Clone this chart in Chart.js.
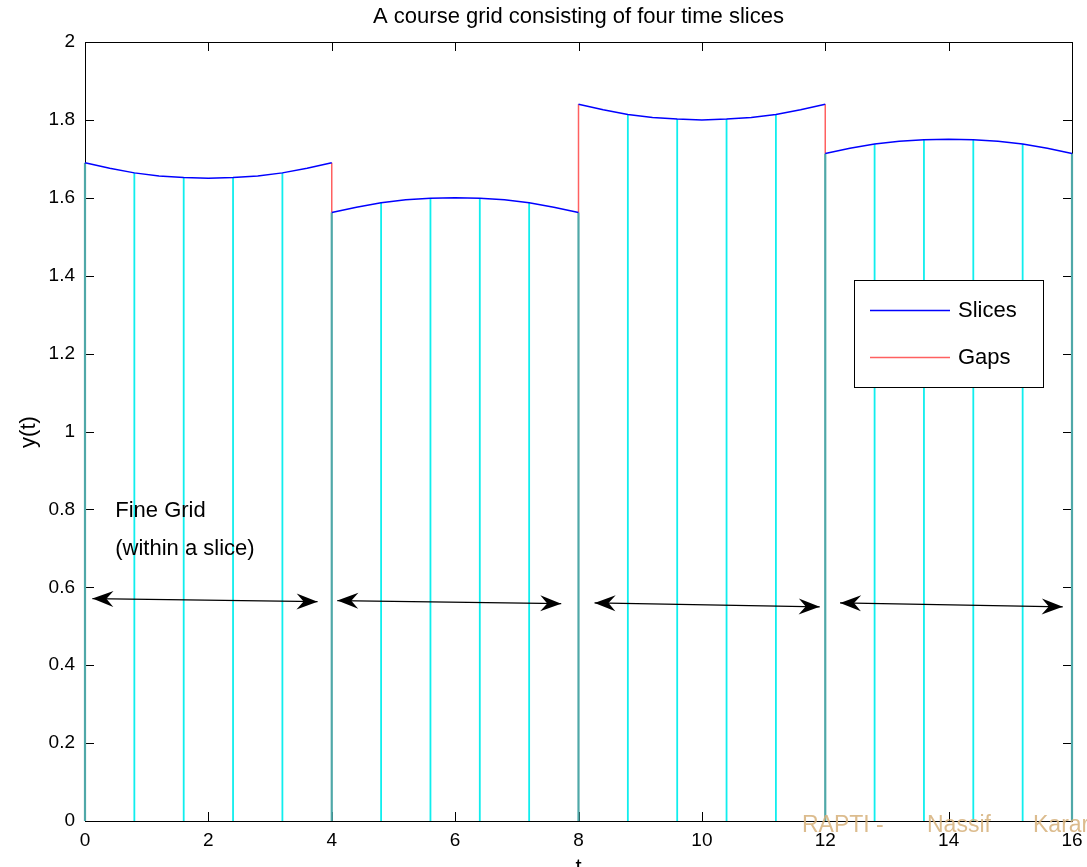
<!DOCTYPE html>
<html>
<head>
<meta charset="utf-8">
<script src="https://cdn.jsdelivr.net/npm/chart.js@4.4.1/dist/chart.umd.min.js"></script>
<style>
    html, body { margin: 0; padding: 0; background: #fff; }
    #wrap { width: 1087px; height: 867px; position: relative; }
</style>
</head>
<body>
<div id="wrap"><canvas id="wykres"></canvas></div>
<script>
// four time slices, values read every 0.4 s
const slice1T = [0.0, 0.4, 0.8, 1.2, 1.6, 2.0, 2.4, 2.8, 3.2, 3.6, 4.0];
const slice1Y = [1.690, 1.676, 1.664, 1.656, 1.652, 1.650, 1.652, 1.656, 1.664, 1.676, 1.690];
const slice2T = [4.0, 4.4, 4.8, 5.2, 5.6, 6.0, 6.4, 6.8, 7.2, 7.6, 8.0];
const slice2Y = [1.562, 1.576, 1.587, 1.595, 1.599, 1.600, 1.599, 1.595, 1.587, 1.576, 1.562];
const slice3T = [8.0, 8.4, 8.8, 9.2, 9.6, 10.0, 10.4, 10.8, 11.2, 11.6, 12.0];
const slice3Y = [1.840, 1.826, 1.814, 1.806, 1.802, 1.800, 1.802, 1.806, 1.814, 1.826, 1.840];
const slice4T = [12.0, 12.4, 12.8, 13.2, 13.6, 14.0, 14.4, 14.8, 15.2, 15.6, 16.0];
const slice4Y = [1.714, 1.727, 1.738, 1.745, 1.749, 1.750, 1.749, 1.745, 1.738, 1.727, 1.714];

// double arrows under each slice
const arrowX1 = [0.12, 4.09, 8.26, 12.24];
const arrowY1 = [0.571, 0.566, 0.560, 0.560];
const arrowX2 = [3.77, 7.72, 11.91, 15.85];
const arrowY2 = [0.563, 0.558, 0.550, 0.550];

const noteLines = ['Fine Grid', '(within a slice)'];
const noteX = 0.49;
const noteY = [0.797, 0.699];

const xTicks = [0, 2, 4, 6, 8, 10, 12, 14, 16];
const yTicks = [0, 0.2, 0.4, 0.6, 0.8, 1, 1.2, 1.4, 1.6, 1.8, 2];

const chartTitle = 'A course grid consisting of four time slices';
const xTitle = 't';
const yTitle = 'y(t)';
const legendOrder = ['Slices', 'Gaps'];
const watermark = ['RAPTI -', 'Nassif', 'Karar'];

document.addEventListener('DOMContentLoaded', () => {
    const font = 'Liberation Sans, Arial, sans-serif';
    const slices = [[slice1T, slice1Y], [slice2T, slice2Y], [slice3T, slice3Y], [slice4T, slice4Y]];

    const sliceData = [];
    const fineData = [];
    slices.forEach(([t, y]) => {
        for (let i = 0; i < t.length; i++) {
            sliceData.push({ x: t[i], y: y[i] });
        }
        sliceData.push({ x: t[t.length - 1], y: null });
        for (let i = 2; i < t.length - 1; i += 2) {
            fineData.push({ x: t[i], y: 0 }, { x: t[i], y: y[i] }, { x: t[i], y: null });
        }
    });

    const boundData = [];
    const gapData = [];
    for (let k = 0; k <= slices.length; k++) {
        const prev = slices[k - 1];
        const next = slices[k];
        const endY = prev ? prev[1][prev[1].length - 1] : null;
        const startY = next ? next[1][0] : null;
        const x = next ? next[0][0] : prev[0][prev[0].length - 1];
        const low = Math.min(endY ?? Infinity, startY ?? Infinity);
        boundData.push({ x: x, y: 0 }, { x: x, y: low }, { x: x, y: null });
        if (prev && next) {
            gapData.push({ x: x, y: endY }, { x: x, y: startY }, { x: x, y: null });
        }
    }

    const arrowData = [];
    for (let i = 0; i < arrowX1.length; i++) {
        arrowData.push({ x: arrowX1[i], y: arrowY1[i] }, { x: arrowX2[i], y: arrowY2[i] }, { x: arrowX2[i], y: null });
    }

    function grot(ctx, tipX, tipY, fromX, fromY) {
        const ang = Math.atan2(tipY - fromY, tipX - fromX);
        ctx.save();
        ctx.translate(tipX, tipY);
        ctx.rotate(ang);
        ctx.beginPath();
        ctx.moveTo(0, 0);
        ctx.lineTo(-21, -8);
        ctx.lineTo(-14, 0);
        ctx.lineTo(-21, 8);
        ctx.closePath();
        ctx.fill();
        ctx.restore();
    }

    const ramka = {
        id: 'ramka',
        beforeDatasetsDraw(chart) {
            const ctx = chart.ctx;
            const { left, right, top, bottom } = chart.chartArea;
            const sx = chart.scales.x;
            const sy = chart.scales.y;
            ctx.save();
            ctx.strokeStyle = '#000';
            ctx.lineWidth = 1;
            ctx.strokeRect(left + 0.5, top + 0.5, right - left, bottom - top);
            ctx.beginPath();
            xTicks.forEach(v => {
                const px = Math.round(sx.getPixelForValue(v)) + 0.5;
                ctx.moveTo(px, bottom); ctx.lineTo(px, bottom - 9);
                ctx.moveTo(px, top); ctx.lineTo(px, top + 9);
            });
            yTicks.forEach(v => {
                const py = Math.round(sy.getPixelForValue(v)) + 0.5;
                ctx.moveTo(left, py); ctx.lineTo(left + 9, py);
                ctx.moveTo(right, py); ctx.lineTo(right - 9, py);
            });
            ctx.stroke();
            ctx.restore();
        },
        afterDatasetsDraw(chart) {
            const ctx = chart.ctx;
            const { left, right } = chart.chartArea;
            const sx = chart.scales.x;
            const sy = chart.scales.y;
            ctx.save();

            // arrow heads
            ctx.fillStyle = '#000';
            for (let i = 0; i < arrowX1.length; i++) {
                const x1 = sx.getPixelForValue(arrowX1[i]);
                const y1 = sy.getPixelForValue(arrowY1[i]);
                const x2 = sx.getPixelForValue(arrowX2[i]);
                const y2 = sy.getPixelForValue(arrowY2[i]);
                grot(ctx, x1, y1, x2, y2);
                grot(ctx, x2, y2, x1, y1);
            }

            // text notes
            ctx.font = '22px ' + font;
            ctx.textAlign = 'left';
            ctx.textBaseline = 'middle';
            noteLines.forEach((txt, i) => {
                ctx.fillText(txt, sx.getPixelForValue(noteX), sy.getPixelForValue(noteY[i]));
            });

            // legend
            const bx = 854, by = 280, bw = 189, bh = 107;
            ctx.fillStyle = '#fff';
            ctx.fillRect(bx, by, bw, bh);
            ctx.strokeStyle = '#000';
            ctx.lineWidth = 1;
            ctx.strokeRect(bx + 0.5, by + 0.5, bw, bh);
            legendOrder.forEach((name, i) => {
                const d = chart.data.datasets.find(ds => ds.label === name);
                const ly = 310.5 + i * 47;
                ctx.strokeStyle = d.borderColor;
                ctx.lineWidth = 1.5;
                ctx.beginPath();
                ctx.moveTo(870, ly);
                ctx.lineTo(950, ly);
                ctx.stroke();
                ctx.fillStyle = '#000';
                ctx.fillText(d.label, 958, ly);
            });

            // title and axis titles
            ctx.fillStyle = '#000';
            ctx.textAlign = 'center';
            ctx.fillText(chartTitle, (left + right) / 2, 17);
            ctx.textBaseline = 'alphabetic';
            ctx.fillText(xTitle, (left + right) / 2, 874);
            ctx.save();
            ctx.translate(35, 432);
            ctx.rotate(-Math.PI / 2);
            ctx.textAlign = 'center';
            ctx.fillText(yTitle, 0, 0);
            ctx.restore();

            // watermark
            ctx.font = '23px ' + font;
            ctx.textAlign = 'left';
            ctx.fillStyle = 'rgba(214, 176, 122, 0.85)';
            ctx.fillText(watermark[0], 802, 832);
            ctx.fillText(watermark[1], 927, 832);
            ctx.fillText(watermark[2], 1033, 832);
            ctx.restore();
        }
    };

    const tickFont = { family: font, size: 19 };

    new Chart(document.getElementById('wykres'), {
        type: 'line',
        data: {
            datasets: [
                { label: 'Fine', data: fineData, borderColor: '#10eeee', borderWidth: 1.8, order: 4 },
                { label: 'Bounds', data: boundData, borderColor: '#4fa8a8', borderWidth: 2.2, order: 3 },
                { label: 'Gaps', data: gapData, borderColor: '#ff6060', borderWidth: 1.5, order: 2 },
                { label: 'Slices', data: sliceData, borderColor: '#0000ff', borderWidth: 1.5, order: 1 },
                { label: 'Arrows', data: arrowData, borderColor: '#000000', borderWidth: 1.3, order: 0 }
            ]
        },
        options: {
            responsive: true,
            maintainAspectRatio: false,
            animation: false,
            events: [],
            layout: { padding: { top: 42, right: 15, left: 0, bottom: 0 } },
            elements: {
                point: { radius: 0 },
                line: { tension: 0, fill: false }
            },
            datasets: { line: { clip: false, spanGaps: false } },
            plugins: {
                legend: { display: false },
                title: { display: false },
                tooltip: { enabled: false }
            },
            scales: {
                x: {
                    type: 'linear',
                    min: 0,
                    max: 16,
                    afterFit: s => { s.height = 46; s.paddingLeft = 0; s.paddingRight = 0; },
                    afterBuildTicks: s => { s.ticks = xTicks.map(v => ({ value: v })); },
                    grid: { display: false, drawTicks: false },
                    border: { display: false },
                    ticks: { padding: 8, color: '#000', font: tickFont, maxRotation: 0, autoSkip: false, callback: v => String(v) }
                },
                y: {
                    type: 'linear',
                    min: 0,
                    max: 2,
                    afterFit: s => { s.width = 85; s.paddingTop = 0; s.paddingBottom = 0; },
                    afterBuildTicks: s => { s.ticks = yTicks.map(v => ({ value: v })); },
                    grid: { display: false, drawTicks: false },
                    border: { display: false },
                    ticks: { padding: 10, color: '#000', font: tickFont, autoSkip: false, callback: v => String(v) }
                }
            }
        },
        plugins: [ramka]
    });
});
</script>
</body>
</html>
